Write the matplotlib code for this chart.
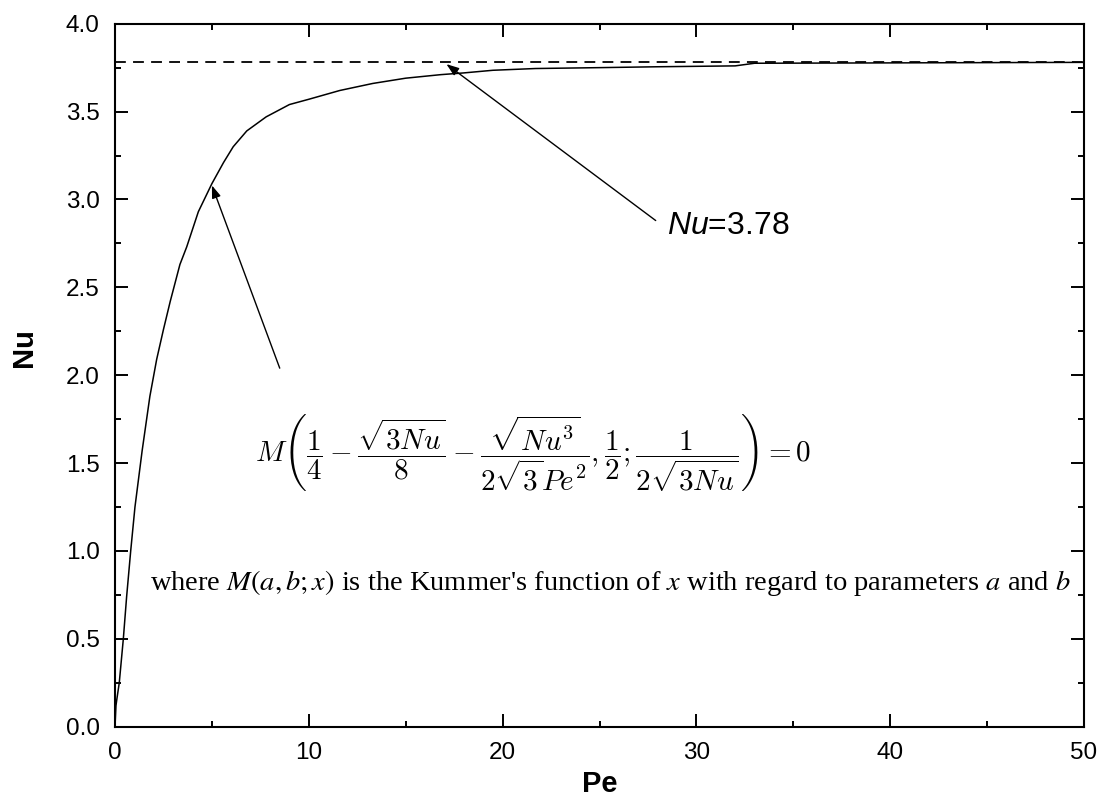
import matplotlib
matplotlib.use("Agg")
import matplotlib.pyplot as plt
from matplotlib.ticker import MultipleLocator

# ---- data ----
pe = [0, 0.05, 0.1, 0.22, 0.43, 0.6, 0.81, 1.03, 1.4, 1.8, 2.15, 2.5, 2.85,
      3.35, 3.7, 4.3, 5.0, 5.6, 6.1, 6.8, 7.8, 9.0, 10.0, 11.6, 13.3, 15.0,
      16.8, 18.0, 19.5, 21.7, 25.0, 28.0, 32.0, 33.0, 40.0, 50.0]
nu = [0, 0.12, 0.16, 0.25, 0.5, 0.74, 1.0, 1.25, 1.57, 1.88, 2.09, 2.26, 2.42,
      2.63, 2.73, 2.93, 3.09, 3.21, 3.30, 3.39, 3.47, 3.54, 3.57, 3.62, 3.66, 3.69,
      3.71, 3.72, 3.735, 3.745, 3.75, 3.755, 3.76, 3.775, 3.777, 3.78]
nu_limit = 3.78

x_ticks = [0, 10, 20, 30, 40, 50]
y_ticks = [0.0, 0.5, 1.0, 1.5, 2.0, 2.5, 3.0, 3.5, 4.0]

plt.rcParams['font.family'] = ['Liberation Sans', 'DejaVu Sans']
plt.rcParams['mathtext.fontset'] = 'custom'
plt.rcParams['mathtext.rm'] = 'Liberation Sans'
plt.rcParams['mathtext.it'] = 'Liberation Sans:italic'

fig = plt.figure(figsize=(11.01, 8.0), dpi=100)
ax = fig.add_axes([115 / 1101, 1 - 726.7 / 800, 969 / 1101, 703 / 800])

ax.plot(pe, nu, color='black', lw=1.1)
ax.axhline(nu_limit, color='black', lw=1.3, ls=(0, (6, 4)))

ax.set_xlim(0, 50)
ax.set_ylim(0, 4.0)
ax.set_xticks(x_ticks)
ax.set_yticks(y_ticks)
ax.set_yticklabels([f"{v:.1f}" for v in y_ticks])
ax.xaxis.set_minor_locator(MultipleLocator(5))
ax.yaxis.set_minor_locator(MultipleLocator(0.25))
ax.tick_params(which='both', direction='in', top=True, right=True, width=1.4,
               labelsize=17.5, colors='black')
ax.tick_params(which='major', length=9.5, pad=11)
ax.tick_params(which='minor', length=4.5)
for s in ax.spines.values():
    s.set_linewidth(1.5)

ax.set_xlabel("Pe", fontsize=21, fontweight='bold')
ax.set_ylabel("Nu", fontsize=21, fontweight='bold')
ax.xaxis.set_label_coords(0.5, -0.062)
ax.yaxis.set_label_coords(-0.0795, 0.54)

arrow = dict(arrowstyle='-|>,head_length=0.5,head_width=0.18', color='black',
             lw=1.0, shrinkA=0, shrinkB=0, mutation_scale=15)
ax.annotate("", xy=(5.0, 3.08), xytext=(8.5, 2.04), arrowprops=arrow)
ax.annotate("", xy=(17.1, 3.77), xytext=(27.9, 2.88), arrowprops=arrow)
ax.text(28.5, 2.85, r"$Nu$=3.78", fontsize=23, ha='left', va='center')

# formula (Origin equation object in the original)
ax.text(21.6, 1.56,
        r"$M\left(\dfrac{1}{4}-\dfrac{\sqrt{3Nu}}{8}-\dfrac{\sqrt{Nu^3}}{2\sqrt{3}Pe^2},"
        r"\dfrac{1}{2};\dfrac{1}{2\sqrt{3Nu}}\right)=0$",
        fontsize=21, ha='center', va='center', math_fontfamily='cm')

ax.text(1.8, 0.817,
        r"where $M(a,b;x)$ is the Kummer's function of $x$ with regard to parameters $a$ and $b$",
        fontsize=20.5, ha='left', va='center', family='Liberation Serif',
        math_fontfamily='stix')

fig.savefig("out.png", dpi=100)
